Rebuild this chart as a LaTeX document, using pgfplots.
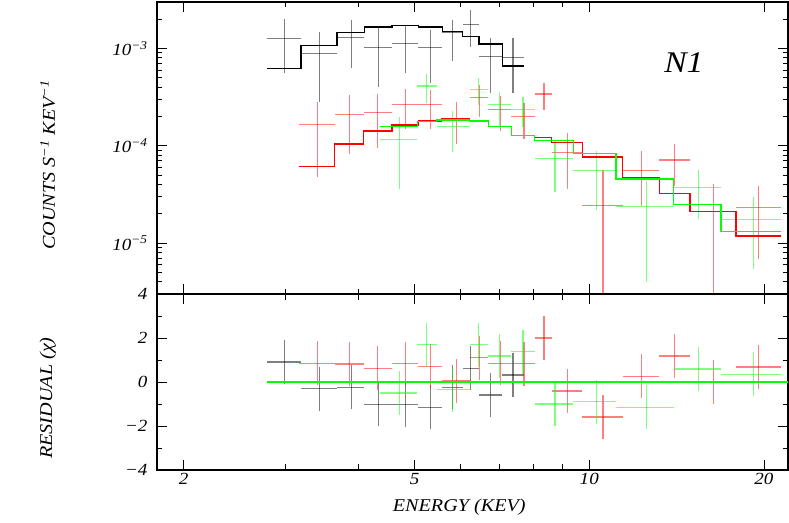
\documentclass[border=0pt]{standalone}
\usepackage{pgfplots}
\pgfplotsset{compat=1.18}
\usepackage{pgfplotstable}
\usepackage{fontspec}
\setmainfont{Liberation Serif}
\newfontfamily\plotfont{Liberation Serif}[FakeStretch=1.12]
\definecolor{xgreen}{RGB}{0,255,0}
\definecolor{xred}{RGB}{255,0,0}

% bins (keV), counts/s/keV with error range, residual (chi)
\pgfplotstableread{
elo ehi x y ylo yhi r
2.785 3.187 2.983 1.275e-3 5.59e-4 1.995e-3 0.91
3.187 3.677 3.428 8.89e-4 2.84e-4 1.479e-3 -0.30
3.677 4.099 3.888 1.296e-3 6.24e-4 1.981e-3 -0.24
4.099 4.573 4.333 1.024e-3 4.05e-4 1.640e-3 -1.02
4.573 5.073 4.818 1.125e-3 5.55e-4 1.692e-3 -1.03
5.073 5.581 5.327 1.014e-3 4.45e-4 1.565e-3 -1.14
5.581 6.056 5.821 1.444e-3 7.46e-4 1.981e-3 -0.23
6.056 6.455 6.245 1.773e-3 1.038e-3 2.507e-3 0.62
6.455 7.083 6.769 8.20e-4 3.51e-4 1.284e-3 -0.59
7.083 7.719 7.389 8.09e-4 3.51e-4 1.266e-3 0.32
}\blackdat

\pgfplotstableread{
elo ehi x y ylo yhi r
3.157 3.642 3.405 1.668e-4 4.78e-5 2.80e-4 0.86
3.642 4.087 3.862 2.077e-4 8.22e-5 3.33e-4 0.82
4.087 4.573 4.321 2.177e-4 9.47e-5 3.38e-4 0.62
4.573 5.073 4.818 2.63e-4 1.482e-4 3.80e-4 0.83
5.073 5.566 5.327 2.63e-4 1.482e-4 3.74e-4 0.71
5.566 6.227 5.906 1.879e-4 1.048e-4 2.79e-4 0.06
6.227 6.699 6.481 3.12e-4 1.967e-4 4.21e-4 1.10
6.699 7.341 7.035 2.352e-4 1.434e-4 3.25e-4 0.85
7.341 8.053 7.719 1.98e-4 1.171e-4 2.735e-4 0.83
8.053 8.616 8.356 3.40e-4 2.335e-4 4.45e-4 2.00
8.616 9.732 9.170 8.62e-5 3.60e-5 1.368e-4 -0.41
9.732 11.41 10.56 2.414e-5 1e-6 5.68e-5 -1.59
11.41 13.20 12.32 5.59e-5 2.43e-5 8.74e-5 0.27
13.20 14.91 14.04 7.14e-5 3.83e-5 1.048e-4 1.18
14.91 17.89 16.38 2.10e-5 1e-6 4.02e-5 0.00
17.89 21.40 19.59 2.30e-5 6.92e-6 3.90e-5 0.68
}\reddat

\pgfplotstableread{
elo ehi x y ylo yhi r
4.368 5.053 4.705 1.171e-4 3.60e-5 1.995e-4 -0.50
5.053 5.456 5.243 4.11e-4 2.735e-4 5.46e-4 1.70
5.456 6.227 5.821 1.591e-4 8.54e-5 2.30e-4 -0.35
6.227 6.699 6.455 3.80e-4 2.63e-4 4.93e-4 1.70
6.699 7.341 7.007 2.672e-4 1.576e-4 3.545e-4 1.18
7.341 8.053 7.689 2.374e-4 1.576e-4 3.15e-4 1.38
8.053 9.391 8.730 7.36e-5 3.33e-5 1.152e-4 -1.00
9.391 11.12 10.29 5.55e-5 2.21e-5 8.74e-5 -0.90
11.12 13.97 12.55 2.36e-5 3.99e-6 4.31e-5 -1.14
13.97 16.86 15.44 3.69e-5 1.777e-5 5.68e-5 0.59
16.86 21.40 19.17 1.748e-5 5.38e-6 2.96e-5 0.36
}\greendat

% folded models (step, left bin edges + last right edge)
\pgfplotstableread{
e m
2.785 6.24e-4
3.187 1.073e-3
3.677 1.458e-3
4.099 1.664e-3
4.573 1.732e-3
5.073 1.664e-3
5.581 1.504e-3
6.056 1.336e-3
6.455 1.107e-3
7.083 6.59e-4
7.719 6.59e-4
}\blackmod

\pgfplotstableread{
e m
3.157 6.14e-5
3.642 1.041e-4
4.087 1.414e-4
4.573 1.640e-4
5.073 1.803e-4
5.566 1.904e-4
6.227 1.816e-4
6.699 1.583e-4
7.341 1.281e-4
8.053 1.208e-4
8.616 1.081e-4
9.732 7.66e-5
11.41 4.70e-5
13.20 3.23e-5
14.91 2.10e-5
17.89 1.18e-5
21.40 1.18e-5
}\redmod

\pgfplotstableread{
e m
4.368 1.576e-4
5.053 1.773e-4
5.456 1.845e-4
6.227 1.803e-4
6.699 1.576e-4
7.341 1.266e-4
8.053 1.14e-4
9.391 8.28e-5
11.12 4.56e-5
13.97 2.51e-5
16.86 1.31e-5
21.40 1.31e-5
}\greenmod

\pgfplotsset{
  databars/.style={only marks, mark size=0pt, mark options={draw=none, fill=none},
    error bars/.cd, x dir=both, x explicit, y dir=both, y explicit,
    error mark=none, error bar style={line width=1.1bp, opacity=0.5}},
  model/.style={const plot, no marks, line width=1.3bp},
}

\begin{document}
\begin{tikzpicture}
\useasboundingbox (0,0) rectangle (789bp,523bp);

\begin{axis}[
  xmode=log, xmin=1.8, xmax=22,
  scale only axis, width=631bp,
  axis line style={line width=1.2bp},
  tick style={black, line width=0.9bp},
  major tick length=10bp, minor tick length=5.5bp,
  xtick={2,5,10,20}, minor xtick={3,4,6,7,8,9},
  tick label style={font=\plotfont\itshape\fontsize{17bp}{20bp}\selectfont},
  label style={font=\plotfont\itshape\fontsize{18bp}{21bp}\selectfont},
  yticklabel style={xshift=-6bp},
  at={(157bp,229bp)}, anchor=south west,
  height=292bp, ymode=log, ymin=3e-6, ymax=3e-3,
  xticklabels={},
  ytick={1e-5,1e-4,1e-3},
  yticklabels={10\textsuperscript{−5},10\textsuperscript{−4},10\textsuperscript{−3}},
  minor ytick={4e-6,5e-6,6e-6,7e-6,8e-6,9e-6,2e-5,3e-5,4e-5,5e-5,6e-5,7e-5,8e-5,9e-5,2e-4,3e-4,4e-4,5e-4,6e-4,7e-4,8e-4,9e-4,2e-3},
  ylabel={COUNTS S\textsuperscript{−1} KEV\textsuperscript{−1}},
  ylabel style={at={(axis description cs:-0.173,0.442)}, anchor=center},
]
\addplot[black, databars] table[x=x, y=y,
  x error minus expr=\thisrow{x}-\thisrow{elo}, x error plus expr=\thisrow{ehi}-\thisrow{x},
  y error minus expr=\thisrow{y}-\thisrow{ylo}, y error plus expr=\thisrow{yhi}-\thisrow{y}] {\blackdat};
\addplot[xred, databars] table[x=x, y=y,
  x error minus expr=\thisrow{x}-\thisrow{elo}, x error plus expr=\thisrow{ehi}-\thisrow{x},
  y error minus expr=\thisrow{y}-\thisrow{ylo}, y error plus expr=\thisrow{yhi}-\thisrow{y}] {\reddat};
\addplot[xgreen, databars] table[x=x, y=y,
  x error minus expr=\thisrow{x}-\thisrow{elo}, x error plus expr=\thisrow{ehi}-\thisrow{x},
  y error minus expr=\thisrow{y}-\thisrow{ylo}, y error plus expr=\thisrow{yhi}-\thisrow{y}] {\greendat};
\addplot[black, model] table[x=e, y=m] {\blackmod};
\addplot[xred, model] table[x=e, y=m] {\redmod};
\addplot[xgreen, model] table[x=e, y=m] {\greenmod};
\node[font=\plotfont\itshape\fontsize{30bp}{34bp}\selectfont] at (axis description cs:0.835,0.793) {N1};
\end{axis}

\begin{axis}[
  xmode=log, xmin=1.8, xmax=22,
  scale only axis, width=631bp,
  axis line style={line width=1.2bp},
  tick style={black, line width=0.9bp},
  major tick length=10bp, minor tick length=5.5bp,
  xtick={2,5,10,20}, minor xtick={3,4,6,7,8,9},
  tick label style={font=\plotfont\itshape\fontsize{17bp}{20bp}\selectfont},
  label style={font=\plotfont\itshape\fontsize{18bp}{21bp}\selectfont},
  yticklabel style={xshift=-6bp},
  at={(157bp,53bp)}, anchor=south west,
  height=176bp, ymin=-4, ymax=4,
  ytick={-4,-2,0,2,4}, yticklabels={−4,−2,0,2,4},
  minor ytick={-3,-1,1,3},
  xticklabels={2,5,10,20},
  xlabel={ENERGY (KEV)},
  xlabel style={at={(axis description cs:0.479,-0.21)}, anchor=center},
  ylabel={RESIDUAL (χ)},
  ylabel style={at={(axis description cs:-0.173,0.409)}, anchor=center},
]
\addplot[black, databars] table[x=x, y=r,
  x error minus expr=\thisrow{x}-\thisrow{elo}, x error plus expr=\thisrow{ehi}-\thisrow{x},
  y error expr=1] {\blackdat};
\addplot[xred, databars] table[x=x, y=r,
  x error minus expr=\thisrow{x}-\thisrow{elo}, x error plus expr=\thisrow{ehi}-\thisrow{x},
  y error expr=1] {\reddat};
\addplot[xgreen, databars] table[x=x, y=r,
  x error minus expr=\thisrow{x}-\thisrow{elo}, x error plus expr=\thisrow{ehi}-\thisrow{x},
  y error expr=1] {\greendat};
\addplot[xgreen, no marks, line width=2bp] coordinates {(2.785,0) (22,0)};
\end{axis}
\end{tikzpicture}
\end{document}
